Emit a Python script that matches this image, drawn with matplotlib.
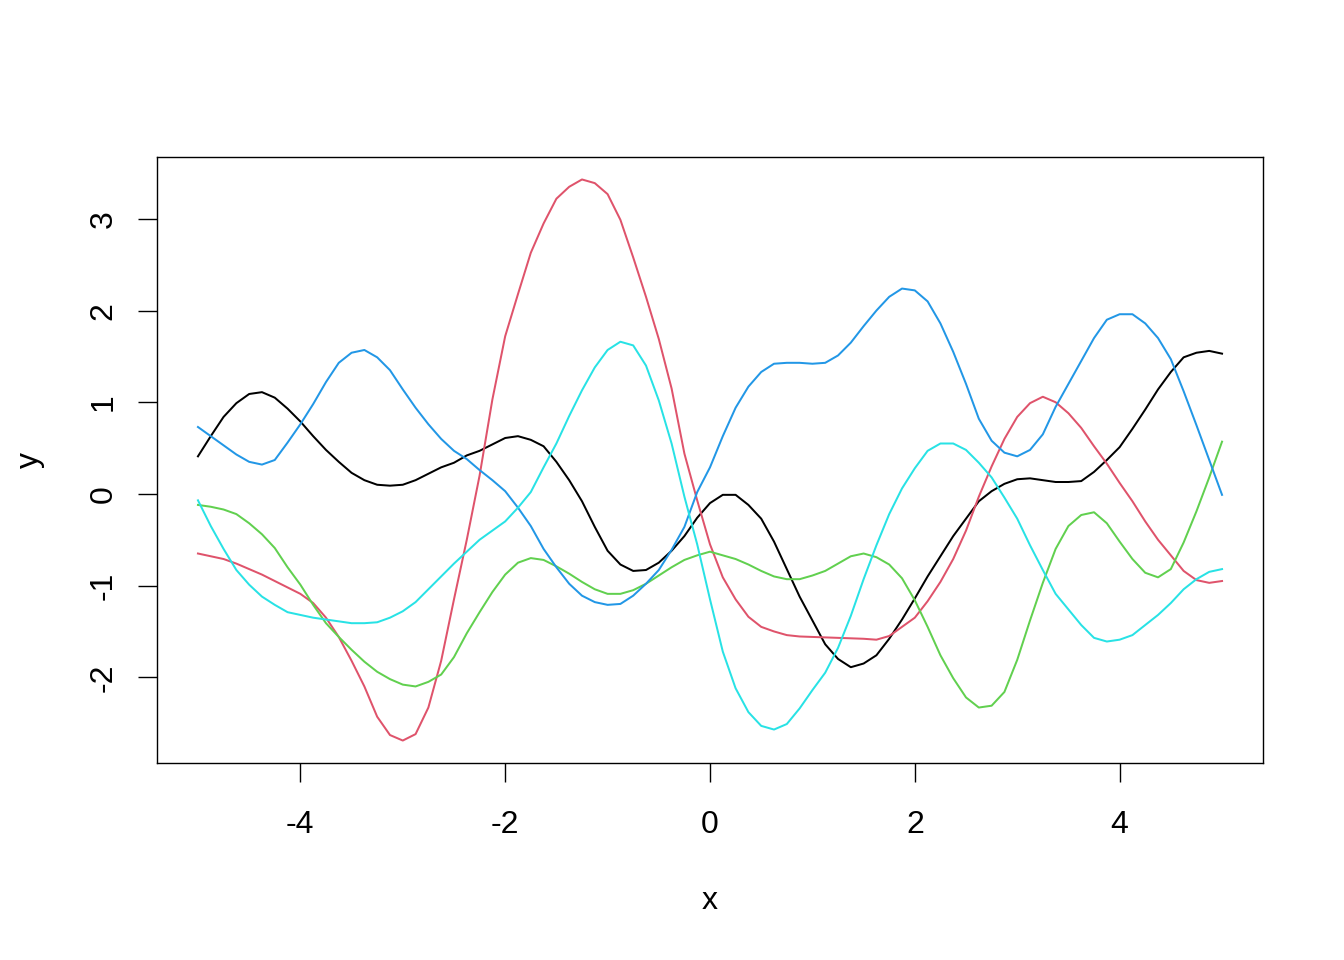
import numpy as np
import matplotlib
matplotlib.use("Agg")
import matplotlib.pyplot as plt

# x grid shared by all curves (step 0.125 from -5 to 5)
x = np.linspace(-5, 5, 81)

black = [0.41, 0.63, 0.84, 0.99, 1.09, 1.11, 1.05, 0.93, 0.79, 0.63, 0.48, 0.35,
         0.23, 0.15, 0.10, 0.09, 0.10, 0.15, 0.22, 0.29, 0.34, 0.42, 0.47, 0.54,
         0.61, 0.63, 0.59, 0.52, 0.35, 0.15, -0.08, -0.36, -0.62, -0.77, -0.84,
         -0.83, -0.75, -0.62, -0.46, -0.26, -0.10, -0.01, -0.01, -0.12, -0.27,
         -0.52, -0.82, -1.12, -1.38, -1.64, -1.80, -1.89, -1.85, -1.76, -1.58,
         -1.37, -1.14, -0.90, -0.68, -0.46, -0.27, -0.08, 0.03, 0.11, 0.16, 0.17,
         0.15, 0.13, 0.13, 0.14, 0.24, 0.37, 0.51, 0.71, 0.92, 1.14, 1.33, 1.49,
         1.54, 1.56, 1.53]
red = [-0.65, -0.68, -0.71, -0.76, -0.82, -0.88, -0.95, -1.02, -1.09, -1.19, -1.35,
       -1.56, -1.82, -2.10, -2.43, -2.63, -2.69, -2.62, -2.33, -1.82, -1.15, -0.50,
       0.20, 1.03, 1.72, 2.18, 2.63, 2.95, 3.22, 3.35, 3.43, 3.39, 3.27, 2.99, 2.58,
       2.15, 1.69, 1.15, 0.44, -0.07, -0.55, -0.91, -1.15, -1.34, -1.45, -1.50,
       -1.54, -1.555, -1.56, -1.565, -1.57, -1.575, -1.58, -1.59, -1.55, -1.45,
       -1.35, -1.17, -0.96, -0.71, -0.40, -0.03, 0.30, 0.60, 0.84, 0.99, 1.06, 1.00,
       0.88, 0.72, 0.52, 0.33, 0.12, -0.08, -0.30, -0.50, -0.67, -0.84, -0.94,
       -0.97, -0.95]
green = [-0.12, -0.14, -0.17, -0.22, -0.32, -0.44, -0.59, -0.80, -0.99, -1.21, -1.41,
         -1.56, -1.70, -1.83, -1.94, -2.02, -2.08, -2.10, -2.05, -1.97, -1.78, -1.52,
         -1.29, -1.07, -0.88, -0.75, -0.70, -0.72, -0.79, -0.87, -0.96, -1.04, -1.09,
         -1.09, -1.05, -0.98, -0.89, -0.80, -0.72, -0.67, -0.63, -0.67, -0.71, -0.77,
         -0.84, -0.90, -0.93, -0.93, -0.89, -0.84, -0.76, -0.68, -0.65, -0.69, -0.77,
         -0.92, -1.16, -1.45, -1.76, -2.01, -2.22, -2.33, -2.31, -2.16, -1.81, -1.38,
         -0.97, -0.60, -0.35, -0.23, -0.20, -0.32, -0.52, -0.71, -0.86, -0.91, -0.82,
         -0.53, -0.19, 0.18, 0.57]
blue = [0.73, 0.63, 0.53, 0.43, 0.35, 0.32, 0.37, 0.56, 0.76, 0.98, 1.22, 1.43, 1.54,
        1.57, 1.49, 1.35, 1.14, 0.94, 0.76, 0.60, 0.47, 0.38, 0.26, 0.15, 0.03, -0.15,
        -0.35, -0.60, -0.80, -0.98, -1.11, -1.18, -1.21, -1.20, -1.11, -0.98, -0.83,
        -0.61, -0.36, 0.02, 0.29, 0.63, 0.94, 1.17, 1.33, 1.42, 1.43, 1.43, 1.42, 1.43,
        1.51, 1.65, 1.83, 2.00, 2.15, 2.24, 2.22, 2.10, 1.86, 1.55, 1.20, 0.82, 0.58,
        0.45, 0.41, 0.48, 0.65, 0.95, 1.20, 1.45, 1.70, 1.90, 1.96, 1.96, 1.86, 1.70,
        1.47, 1.12, 0.75, 0.37, -0.01]
cyan = [-0.07, -0.35, -0.60, -0.83, -0.99, -1.12, -1.21, -1.29, -1.32, -1.35, -1.37,
        -1.39, -1.41, -1.41, -1.40, -1.35, -1.28, -1.18, -1.04, -0.90, -0.76, -0.63,
        -0.50, -0.40, -0.30, -0.15, 0.02, 0.29, 0.55, 0.85, 1.13, 1.38, 1.57, 1.66,
        1.62, 1.40, 1.02, 0.55, -0.03, -0.55, -1.15, -1.72, -2.12, -2.38, -2.53,
        -2.57, -2.51, -2.34, -2.14, -1.95, -1.68, -1.33, -0.93, -0.56, -0.22, 0.06,
        0.28, 0.47, 0.55, 0.55, 0.48, 0.34, 0.18, -0.04, -0.27, -0.56, -0.83, -1.09,
        -1.26, -1.43, -1.57, -1.61, -1.59, -1.54, -1.43, -1.32, -1.19, -1.04, -0.93,
        -0.85, -0.82]

series = [black, red, green, blue, cyan]
colors = ["#000000", "#DF536B", "#61D04F", "#2297E6", "#28E2E5"]

plt.rcParams["font.family"] = ["Liberation Sans", "DejaVu Sans"]

fig = plt.figure(figsize=(13.44, 9.6), dpi=100)
ax = fig.add_axes([157 / 1344, 1 - 763 / 960, (1263 - 157) / 1344, (763 - 157) / 960])

for ys, c in zip(series, colors):
    ax.plot(x, ys, color=c, linewidth=1.44)

ax.set_xlim(-5.4, 5.4)
ax.set_ylim(-2.935, 3.675)
ax.set_xticks([-4, -2, 0, 2, 4])
ax.set_yticks([-2, -1, 0, 1, 2, 3])
ax.set_xticklabels(["-4", "-2", "0", "2", "4"])
ax.set_yticklabels(["-2", "-1", "0", "1", "2", "3"], rotation=90, va="center")
ax.tick_params(axis="both", direction="out", length=13.8, width=1.0, labelsize=23)
ax.tick_params(axis="x", pad=20)
ax.tick_params(axis="y", pad=14)
for s in ax.spines.values():
    s.set_linewidth(1.0)

ax.set_xlabel("x", fontsize=23, labelpad=33)
ax.set_ylabel("y", fontsize=23, labelpad=31)

fig.savefig("out.png", dpi=100)
